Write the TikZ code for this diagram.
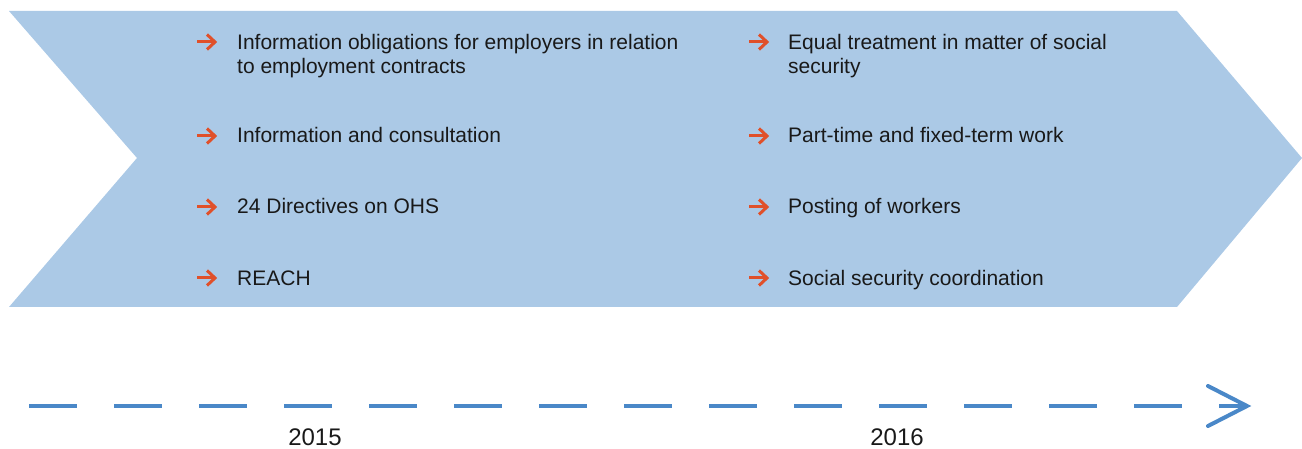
\documentclass[tikz,border=0pt]{standalone}
\usepackage{fontspec}
\setmainfont{Liberation Sans}
\definecolor{chev}{HTML}{ABC9E6}
\definecolor{bul}{HTML}{E0502A}
\definecolor{tl}{HTML}{4A88C8}
\begin{document}
\begin{tikzpicture}[x=1pt,y=-1pt,
  item/.style={inner sep=0pt,anchor=base west,font=\fontsize{21}{24}\selectfont,text=black!90},
  item2/.style={inner sep=0pt,anchor=north west,align=left,font=\fontsize{21}{24}\selectfont,text=black!90},
  bullet/.style={draw=bul,line width=3pt},
  year/.style={inner sep=0pt,anchor=base,font=\fontsize{24}{28}\selectfont,text=black!90},
  timeline/.style={draw=tl,line width=3.6pt,dash pattern=on 48pt off 37pt},
  tiphead/.style={draw=tl,line width=4pt,line cap=round,line join=miter}]
\useasboundingbox (0,0) rectangle (1302,449);
% chevron
\fill[chev] (9,11) -- (1177,11) -- (1302,158) -- (1177,307) -- (9,307) -- (137,158) -- cycle;
% bullets
\foreach \bx in {197,749}{
  \foreach \by in {42,136,207,278}{
    \draw[bullet] (\bx,\by) -- (\bx+18,\by);
    \draw[bullet] (\bx+10,\by-7.5) -- (\bx+18,\by) -- (\bx+10,\by+7.5);
  }
}
% left column
\node[item2] (l1) at (237,33.6) {Information obligations for employers in relation\\to employment contracts};
\node[item] (l2) at (237,143) {Information and consultation};
\node[item] (l3) at (237,214) {24 Directives on OHS};
\node[item] (l4) at (237,286) {REACH};
% right column
\node[item2] (r1) at (788,33.6) {Equal treatment in matter of social\\security};
\node[item] (r2) at (788,143) {Part-time and fixed-term work};
\node[item] (r3) at (788,214) {Posting of workers};
\node[item] (r4) at (788,286) {Social security coordination};
% timeline
\coordinate (t0) at (29,406);
\coordinate (t1) at (1247,406);
\draw[timeline] (t0) -- (t1);
\coordinate (ha) at (1208,386);
\coordinate (hb) at (1208,426);
\draw[tiphead] (ha) -- (t1) -- (hb);
\node[year] (y1) at (315,445) {2015};
\node[year] (y2) at (897,445) {2016};
\end{tikzpicture}
\end{document}
